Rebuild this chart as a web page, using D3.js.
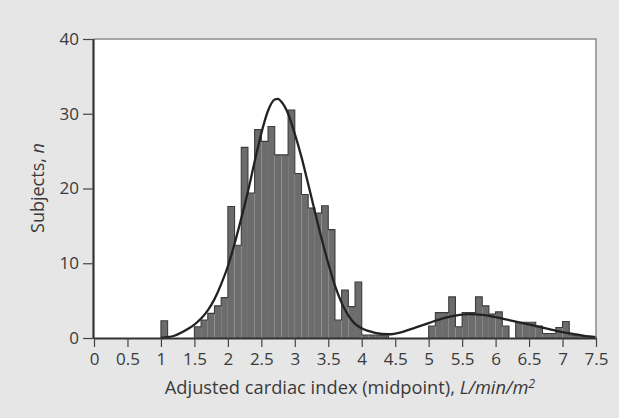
<!DOCTYPE html>
<html><head><meta charset="utf-8">
<script src="https://cdn.jsdelivr.net/npm/d3@7"></script>
<style>
html,body{margin:0;padding:0;background:#e6e6e6;}
svg{display:block;}
text{font-family:"Open Sans","Lato",sans-serif;fill:#3a3a3a;}
</style></head><body>
<svg id="chart" width="619" height="418"></svg>
<script>
// Histogram bins (start of each 0.1-wide bin) and subject counts
const binStarts = [1.0,1.5,1.6,1.7,1.8,1.9,2.0,2.1,2.2,2.3,2.4,2.5,2.6,2.7,2.8,2.9,
  3.0,3.1,3.2,3.3,3.4,3.5,3.6,3.7,3.8,3.9,4.0,4.1,4.2,4.3,
  5.0,5.1,5.2,5.3,5.4,5.5,5.6,5.7,5.8,5.9,6.0,6.1,6.3,6.4,6.5,6.6,6.7,6.8,6.9,7.0,7.1,7.2,7.3,7.4];
const counts = [2.3,1.5,2.4,3.3,4.3,5.4,17.6,12.4,25.5,19.4,27.9,26.3,28.3,24.5,24.5,30.5,
  22.0,19.2,17.4,16.7,17.7,14.5,2.4,6.4,4.2,7.5,0.4,0.4,0.4,0.3,
  1.6,3.4,3.4,5.5,1.5,3.4,3.4,5.5,4.3,3.2,3.5,1.6,2.1,2.1,2.1,1.6,0.6,0.6,1.4,2.2,0.4,0.3,0.2,0.2];
const binWidth = 0.1;
// Fitted curve
const curveX = [1.0,1.1,1.2,1.3,1.4,1.5,1.6,1.7,1.8,1.9,2.0,2.1,2.2,2.3,2.4,2.5,2.6,2.7,2.75,2.8,2.9,
  3.0,3.1,3.2,3.3,3.4,3.5,3.6,3.7,3.8,3.9,4.0,4.2,4.4,4.6,4.8,5.0,5.2,5.4,5.6,5.8,6.0,6.2,6.4,6.6,6.8,7.0,7.2,7.4,7.5];
const curveY = [0.0,0.1,0.3,0.7,1.2,1.8,2.6,3.7,5.2,7.2,9.6,12.6,16.0,19.6,23.6,27.4,30.4,31.9,32.0,31.6,30.0,
  27.3,24.2,20.6,16.9,13.3,10.0,7.0,4.7,3.0,1.9,1.3,0.7,0.5,0.8,1.4,2.0,2.6,3.0,3.2,3.1,2.8,2.4,2.0,1.6,1.2,0.8,0.5,0.2,0.1];
const xTicks = [0,0.5,1,1.5,2,2.5,3,3.5,4,4.5,5,5.5,6,6.5,7,7.5];
const xTickLabels = ["0","0.5","1","1.5","2","2.5","3","3.5","4","4.5","5","5.5","6","6.5","7","7.5"];
const yTicks = [0,10,20,30,40];

const svg = d3.select("#chart");
const L = 94, R = 596, T = 39, B = 338;
const x = d3.scaleLinear().domain([0,7.5]).range([L,R]);
const y = d3.scaleLinear().domain([0,40]).range([B,T]);

svg.append("rect").attr("x",L).attr("y",T).attr("width",R-L).attr("height",B-T).attr("fill","#ffffff");

const bins = binStarts.map((s,i)=>({s, v:counts[i]}));
// bars
svg.append("g").selectAll("rect").data(bins).join("rect")
  .attr("x", d=>x(d.s)).attr("width", d=>x(d.s+binWidth)-x(d.s))
  .attr("y", d=>y(d.v)).attr("height", d=>y(0)-y(d.v))
  .attr("fill","#6c6c6c");
// step outline
const outline = d3.path();
let prevEnd = null;
bins.forEach(d=>{
  const x0=x(d.s), x1=x(d.s+binWidth), yy=y(d.v);
  if(prevEnd===null || Math.abs(prevEnd.x - x0)>0.5){
    if(prevEnd!==null) outline.lineTo(prevEnd.x, y(0));
    outline.moveTo(x0, y(0));
  }
  outline.lineTo(x0, yy); outline.lineTo(x1, yy);
  prevEnd = {x:x1};
});
outline.lineTo(prevEnd.x, y(0));
svg.append("path").attr("d", outline.toString()).attr("fill","none")
  .attr("stroke","#3c3c3c").attr("stroke-width",1.1);

// curve
const line = d3.line().x(d=>x(d[0])).y(d=>y(d[1])).curve(d3.curveMonotoneX);
svg.append("path").datum(curveX.map((v,i)=>[v,curveY[i]]))
  .attr("d", line).attr("fill","none").attr("stroke","#222").attr("stroke-width",2.3);

// frame top/right
svg.append("path").attr("d",`M${L},${T}H${R}V${B}`).attr("fill","none")
  .attr("stroke","#8c8c8c").attr("stroke-width",1.5);

// axes
const xAxis = d3.axisBottom(x).tickValues(xTicks).tickSize(9).tickPadding(6)
  .tickFormat((d,i)=>xTickLabels[i]);
const gx = svg.append("g").attr("transform",`translate(0,${B})`).call(xAxis);
const yAxis = d3.axisLeft(y).tickValues(yTicks).tickSize(11).tickPadding(4);
const gy = svg.append("g").attr("transform",`translate(${L},0)`).call(yAxis);
[gx,gy].forEach(g=>{
  g.select(".domain").attr("stroke","#333").attr("stroke-width",2.2);
  g.selectAll(".tick line").attr("stroke","#444").attr("stroke-width",1.2);
  g.selectAll(".tick text").attr("font-size",17).attr("fill","#3a3a3a")
    .style("font-family","'Open Sans', Lato, sans-serif");
});
gx.select(".domain").attr("d",`M${L},0.5H${R}`);
gy.select(".domain").attr("d",`M-0.5,${B}V${T}`);

// axis titles
const xt = svg.append("text").attr("x",350).attr("y",394).attr("text-anchor","middle").attr("font-size",18.3);
xt.append("tspan").text("Adjusted cardiac index (midpoint), ");
xt.append("tspan").attr("font-style","italic").text("L/min/m");
xt.append("tspan").attr("font-style","italic").attr("font-size",12.5).attr("dy",-6).text("2");

const yt = svg.append("text").attr("transform","translate(44,188) rotate(-90)")
  .attr("text-anchor","middle").attr("font-size",18);
yt.append("tspan").text("Subjects, ");
yt.append("tspan").attr("font-style","italic").text("n");
</script>
</body></html>
